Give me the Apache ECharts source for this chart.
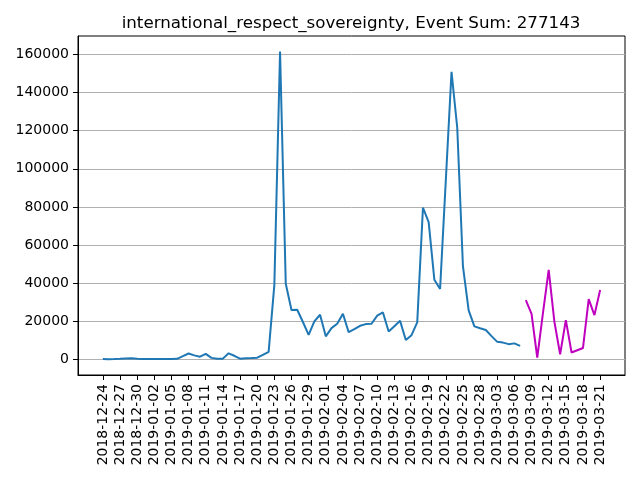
<!DOCTYPE html>
<html>
<head>
<meta charset="utf-8">
<script src="https://cdn.jsdelivr.net/npm/echarts@6/dist/echarts.min.js"></script>
<style>
  html, body { margin: 0; padding: 0; background: #fff; }
  #chart { width: 640px; height: 480px; }
</style>
</head>
<body>
<div id="chart"></div>
<script>
// dates from 2018-12-24 to 2019-03-21, one per day
const START_DATE = Date.UTC(2018, 11, 24);
const DAY_COUNT = 88;
const dates = [];
for (let i = 0; i < DAY_COUNT; i++) {
  const d = new Date(START_DATE + i * 86400000);
  const mm = String(d.getUTCMonth() + 1).padStart(2, '0');
  const dd = String(d.getUTCDate()).padStart(2, '0');
  dates.push(d.getUTCFullYear() + '-' + mm + '-' + dd);
}

// blue series: 2018-12-24 .. 2019-03-07
const histValues = [
  300, 200, 250, 400, 600, 700, 400, 300, 350, 300,
  250, 300, 250, 400, 1800, 3200, 2200, 1500, 3000, 900,
  400, 500, 3300, 2000, 500, 700, 800, 1000, 2500, 4000,
  39000, 161500, 39700, 26000, 26100, 19700, 13000, 20000, 23500, 12200,
  16500, 18800, 24000, 14400, 16000, 17700, 18600, 18800, 23000, 24700,
  14700, 17500, 20300, 10300, 12800, 19500, 79600, 72000, 41800, 37000,
  94000, 150800, 121500, 48800, 25800, 17400, 16400, 15500, 12300, 9300,
  8900, 8100, 8500, 7200
];

// magenta series: 2019-03-08 .. 2019-03-21
const recentValues = [
  31200, 23900, 1050, 24500, 47000, 19800, 2800, 20700, 3700, 4900,
  6100, 31700, 23300, 36500
];

const xTicks = [];
for (let i = 0; i < DAY_COUNT; i += 3) xTicks.push(i);
const yTicks = [0, 20000, 40000, 60000, 80000, 100000, 120000, 140000, 160000];

const eventSum = 277143;
const title = 'international_respect_sovereignty, Event Sum: ' + eventSum;

const histData = histValues.map((v, i) => [i, v]);
const recentData = recentValues.map((v, i) => [histValues.length + i, v]);

const chart = echarts.init(document.getElementById('chart'));
const font = 'DejaVu Sans';

chart.setOption({
  animation: false,
  backgroundColor: '#fff',
  title: {
    text: title,
    left: 346,
    top: 10,
    textAlign: 'center',
    textStyle: { fontFamily: font, fontSize: 16.7, fontWeight: 'normal', color: '#000' }
  },
  grid: {
    left: 78, right: 15, top: 36, bottom: 105,
    show: true, borderColor: '#000', borderWidth: 1
  },
  xAxis: {
    type: 'value',
    min: -4.35,
    max: 91.35,
    axisLine: { show: true, onZero: false, lineStyle: { color: '#000' } },
    axisTick: { show: true, length: 5, customValues: xTicks, lineStyle: { color: '#000' } },
    axisLabel: {
      customValues: xTicks,
      rotate: 90,
      margin: 9,
      fontFamily: font,
      fontSize: 14,
      color: '#000',
      formatter: v => dates[Math.round(v)]
    },
    splitLine: { show: false }
  },
  yAxis: {
    type: 'value',
    min: -8075,
    max: 169575,
    axisLine: { show: true, onZero: false, lineStyle: { color: '#000' } },
    axisTick: { show: true, length: 5, customValues: yTicks, lineStyle: { color: '#000' } },
    axisLabel: {
      customValues: yTicks,
      margin: 9,
      fontFamily: font,
      fontSize: 14,
      color: '#000',
      formatter: v => String(v)
    },
    splitLine: { show: true, lineStyle: { color: '#b0b0b0', width: 1 } }
  },
  series: [
    {
      type: 'line',
      data: histData,
      showSymbol: false,
      lineStyle: { color: '#1f77b4', width: 2 },
      itemStyle: { color: '#1f77b4' }
    },
    {
      type: 'line',
      data: recentData,
      showSymbol: false,
      lineStyle: { color: '#bf00bf', width: 2 },
      itemStyle: { color: '#bf00bf' }
    }
  ]
});
</script>
</body>
</html>
